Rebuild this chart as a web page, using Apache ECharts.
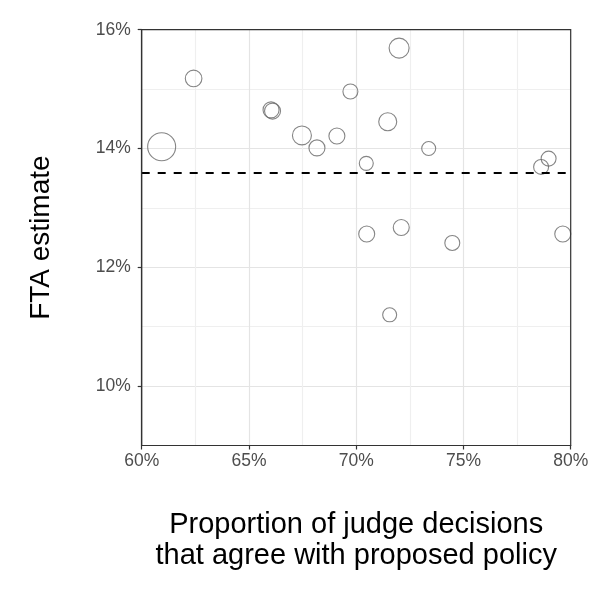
<!DOCTYPE html>
<html>
<head>
<meta charset="utf-8">
<script src="https://cdn.jsdelivr.net/npm/echarts@6/dist/echarts.min.js"></script>
<style>
  html, body { margin: 0; padding: 0; background: #fff; }
  #chart { width: 600px; height: 600px; }
</style>
</head>
<body>
<div id="chart"></div>
<script>
// share of judge decisions agreeing with policy (%)
var agreePct = [60.93, 62.42, 66.03, 66.10, 72.00, 69.73, 71.47, 67.47, 69.10, 68.17,
                73.38, 70.47, 78.97, 78.62, 70.49, 72.10, 74.48, 79.63, 71.56];
// FTA estimate (%)
var ftaPct = [14.03, 15.18, 14.65, 14.63, 15.69, 14.96, 14.45, 14.22, 14.21, 14.01,
              14.00, 13.75, 13.83, 13.69, 12.56, 12.67, 12.41, 12.56, 11.20];
// relative weight of each judge (bubble area)
var weight = [196, 69, 64, 64, 100, 56, 81, 90, 64, 64,
              49, 49, 56, 56, 64, 64, 56, 64, 49];
var baselineFta = 13.6;
var xTicks = [60, 65, 70, 75, 80];
var yTicks = [10, 12, 14, 16];

var pts = [];
for (var i = 0; i < agreePct.length; i++) {
    pts.push([agreePct[i], ftaPct[i], weight[i]]);
}

var textFont = 'Liberation Sans';
var darkLine = '#333333';
var gridMajor = '#e4e4e4', gridMinor = '#efefef';
// plot panel box
var gl = 141.7, gt = 29.7, gw = 429, gh = 415.8;

// hidden axis used only to draw major + minor grid lines
function gridAxis(min, max, step, colors) {
    return {
        type: 'value', min: min, max: max, interval: step,
        axisLine: {show: false}, axisTick: {show: false}, axisLabel: {show: false},
        splitLine: {show: true, lineStyle: {color: colors, width: 1.2}}
    };
}

var chart = echarts.init(document.getElementById('chart'));
chart.setOption({
    animation: false,
    grid: {left: gl, top: gt, width: gw, height: gh},
    // panel border drawn over the grid lines
    graphic: [{
        type: 'rect', z: 100, silent: true,
        shape: {x: gl, y: gt, width: gw, height: gh},
        style: {fill: 'none', stroke: darkLine, lineWidth: 1.2}
    }],
    xAxis: [{
        type: 'value', min: 60, max: 80, interval: 5,
        name: 'Proportion of judge decisions\nthat agree with proposed policy',
        nameLocation: 'middle', nameGap: 64,
        nameTextStyle: {fontFamily: textFont, fontSize: 29, color: '#000', lineHeight: 31},
        axisLine: {show: true, lineStyle: {color: darkLine, width: 1.2}},
        axisTick: {show: true, length: 4, customValues: xTicks, lineStyle: {color: darkLine, width: 1.2}},
        axisLabel: {customValues: xTicks, margin: 7, fontFamily: textFont, fontSize: 17.5, color: '#4d4d4d',
                    formatter: function(v){ return v + '%'; }},
        splitLine: {show: false}
    }, gridAxis(60, 80, 2.5, [gridMajor, gridMinor])],
    yAxis: [{
        type: 'value', min: 9, max: 16, interval: 1,
        name: 'FTA estimate',
        nameLocation: 'middle', nameRotate: 90, nameGap: 86,
        nameTextStyle: {fontFamily: textFont, fontSize: 28, color: '#000'},
        axisLine: {show: true, lineStyle: {color: darkLine, width: 1.2}},
        axisTick: {show: true, length: 4, customValues: yTicks, lineStyle: {color: darkLine, width: 1.2}},
        axisLabel: {customValues: yTicks, margin: 11, fontFamily: textFont, fontSize: 17.5, color: '#4d4d4d',
                    formatter: function(v){ return v + '%'; }},
        splitLine: {show: false}
    }, gridAxis(9, 16, 1, [gridMinor, gridMajor])],
    series: [{
        type: 'scatter',
        xAxisIndex: 0, yAxisIndex: 0,
        data: pts,
        silent: true,
        symbol: 'circle',
        symbolSize: function(d){ return 2 * Math.sqrt(d[2]); },
        itemStyle: {color: 'rgba(0,0,0,0)', borderColor: '#666666', borderWidth: 1.1},
        emphasis: {disabled: true},
        markLine: {
            silent: true,
            symbol: ['none', 'none'],
            label: {show: false},
            lineStyle: {color: '#000', type: [8, 8], width: 2},
            data: [{yAxis: baselineFta}]
        }
    }]
});
</script>
</body>
</html>
